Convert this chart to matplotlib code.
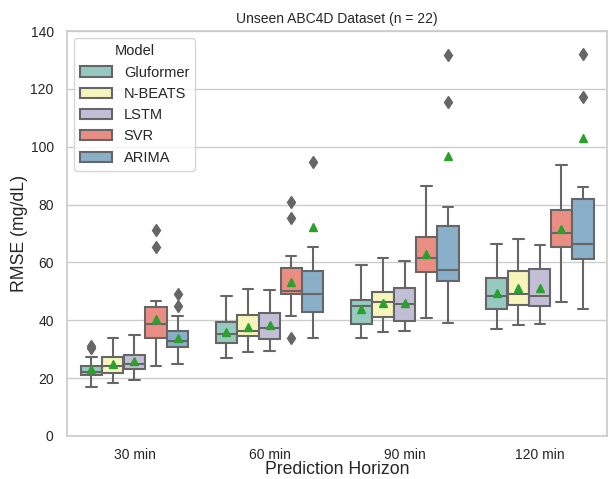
import matplotlib
matplotlib.use("Agg")
import matplotlib.pyplot as plt
import matplotlib.patches as mpatches
import seaborn as sns

horizons = ["30 min", "60 min", "90 min", "120 min"]
models = ["Gluformer", "N-BEATS", "LSTM", "SVR", "ARIMA"]

# rows = horizon, cols = model
whis_hi = [[27.2, 33.9, 34.8, 46.8, 41.4],
           [48.3, 50.7, 50.5, 62.1, 65.3],
           [59.1, 61.5, 60.5, 86.6, 79.3],
           [66.4, 68.1, 65.9, 93.7, 86.1]]
q3 = [[24.2, 27.4, 28.1, 44.6, 36.4],
      [39.4, 41.9, 42.6, 58.0, 57.1],
      [47.1, 49.8, 51.0, 68.8, 72.6],
      [54.7, 57.1, 57.7, 78.2, 81.8]]
median = [[22.2, 24.2, 25.0, 38.6, 32.8],
          [35.1, 36.3, 37.3, 50.1, 49.2],
          [44.9, 46.2, 45.6, 61.4, 57.4],
          [48.4, 49.1, 48.3, 70.1, 66.4]]
q1 = [[21.0, 21.7, 23.0, 33.9, 30.9],
      [32.3, 34.7, 33.4, 49.1, 43.0],
      [38.7, 41.2, 39.9, 56.8, 53.6],
      [43.8, 45.3, 45.0, 65.4, 61.2]]
whis_lo = [[16.8, 18.3, 19.5, 24.1, 24.7],
           [26.8, 29.0, 29.5, 41.6, 33.9],
           [33.8, 36.1, 36.3, 40.7, 39.0],
           [37.0, 38.5, 38.8, 46.3, 43.8]]
means = [[23.2, 25.0, 25.9, 40.3, 34.0],
         [35.9, 37.8, 38.3, 53.3, 72.4],
         [43.9, 45.9, 45.9, 62.8, 96.8],
         [49.3, 51.0, 51.0, 71.5, 103.1]]
outliers = [[[31.0, 30.4], [], [], [71.2, 65.3], [49.0, 44.9]],
            [[], [], [], [80.9, 75.5, 33.8], [94.6]],
            [[], [], [], [], [131.8, 115.6]],
            [[], [], [], [], [132.0, 117.1]]]

sns.set_theme(style="whitegrid")
plt.rcParams["font.family"] = ["Liberation Sans", "DejaVu Sans"]

palette = [sns.desaturate(c, 0.75) for c in sns.color_palette("Set3", 5)]
gray = "#666666"

fig = plt.figure(figsize=(6.08, 4.79), dpi=100)
ax = fig.add_axes([0.110, 0.090, 0.889, 0.845])

n = len(models)
w = 0.8 / n
for i in range(len(horizons)):
    for j in range(n):
        stats = [{
            "med": median[i][j], "q1": q1[i][j], "q3": q3[i][j],
            "whislo": whis_lo[i][j], "whishi": whis_hi[i][j],
            "mean": means[i][j], "fliers": outliers[i][j],
        }]
        pos = i - 0.4 + w * (j + 0.5)
        ax.bxp(stats, positions=[pos], widths=w * 0.98, patch_artist=True,
               showmeans=True, manage_ticks=False,
               boxprops=dict(facecolor=palette[j], edgecolor=gray, linewidth=1.5),
               medianprops=dict(color=gray, linewidth=1.5),
               whiskerprops=dict(color=gray, linewidth=1.5),
               capprops=dict(color=gray, linewidth=1.5),
               flierprops=dict(marker="d", markerfacecolor=gray, markeredgecolor=gray,
                               markersize=6),
               meanprops=dict(marker="^", markerfacecolor="#2ca02c",
                              markeredgecolor="#2ca02c", markersize=6))

ax.set_xlim(-0.5, len(horizons) - 0.5)
ax.set_ylim(0, 140)
ax.set_xticks(range(len(horizons)))
ax.set_xticklabels(horizons)
ax.xaxis.grid(False)
ax.tick_params(labelsize=10)
ax.tick_params(axis="x", pad=3)
ax.set_title("Unseen ABC4D Dataset (n = 22)", fontsize=10)
ax.set_xlabel("Prediction Horizon", fontsize=12.7, labelpad=-1)
ax.set_ylabel("RMSE (mg/dL)", fontsize=12.7, labelpad=2)

handles = [mpatches.Patch(facecolor=palette[j], edgecolor=gray, linewidth=1.5, label=m)
           for j, m in enumerate(models)]
ax.legend(handles=handles, title="Model", loc="upper left", fontsize=10.5,
          title_fontsize=10.5, handlelength=2.2)

fig.savefig("out.png", dpi=100)
